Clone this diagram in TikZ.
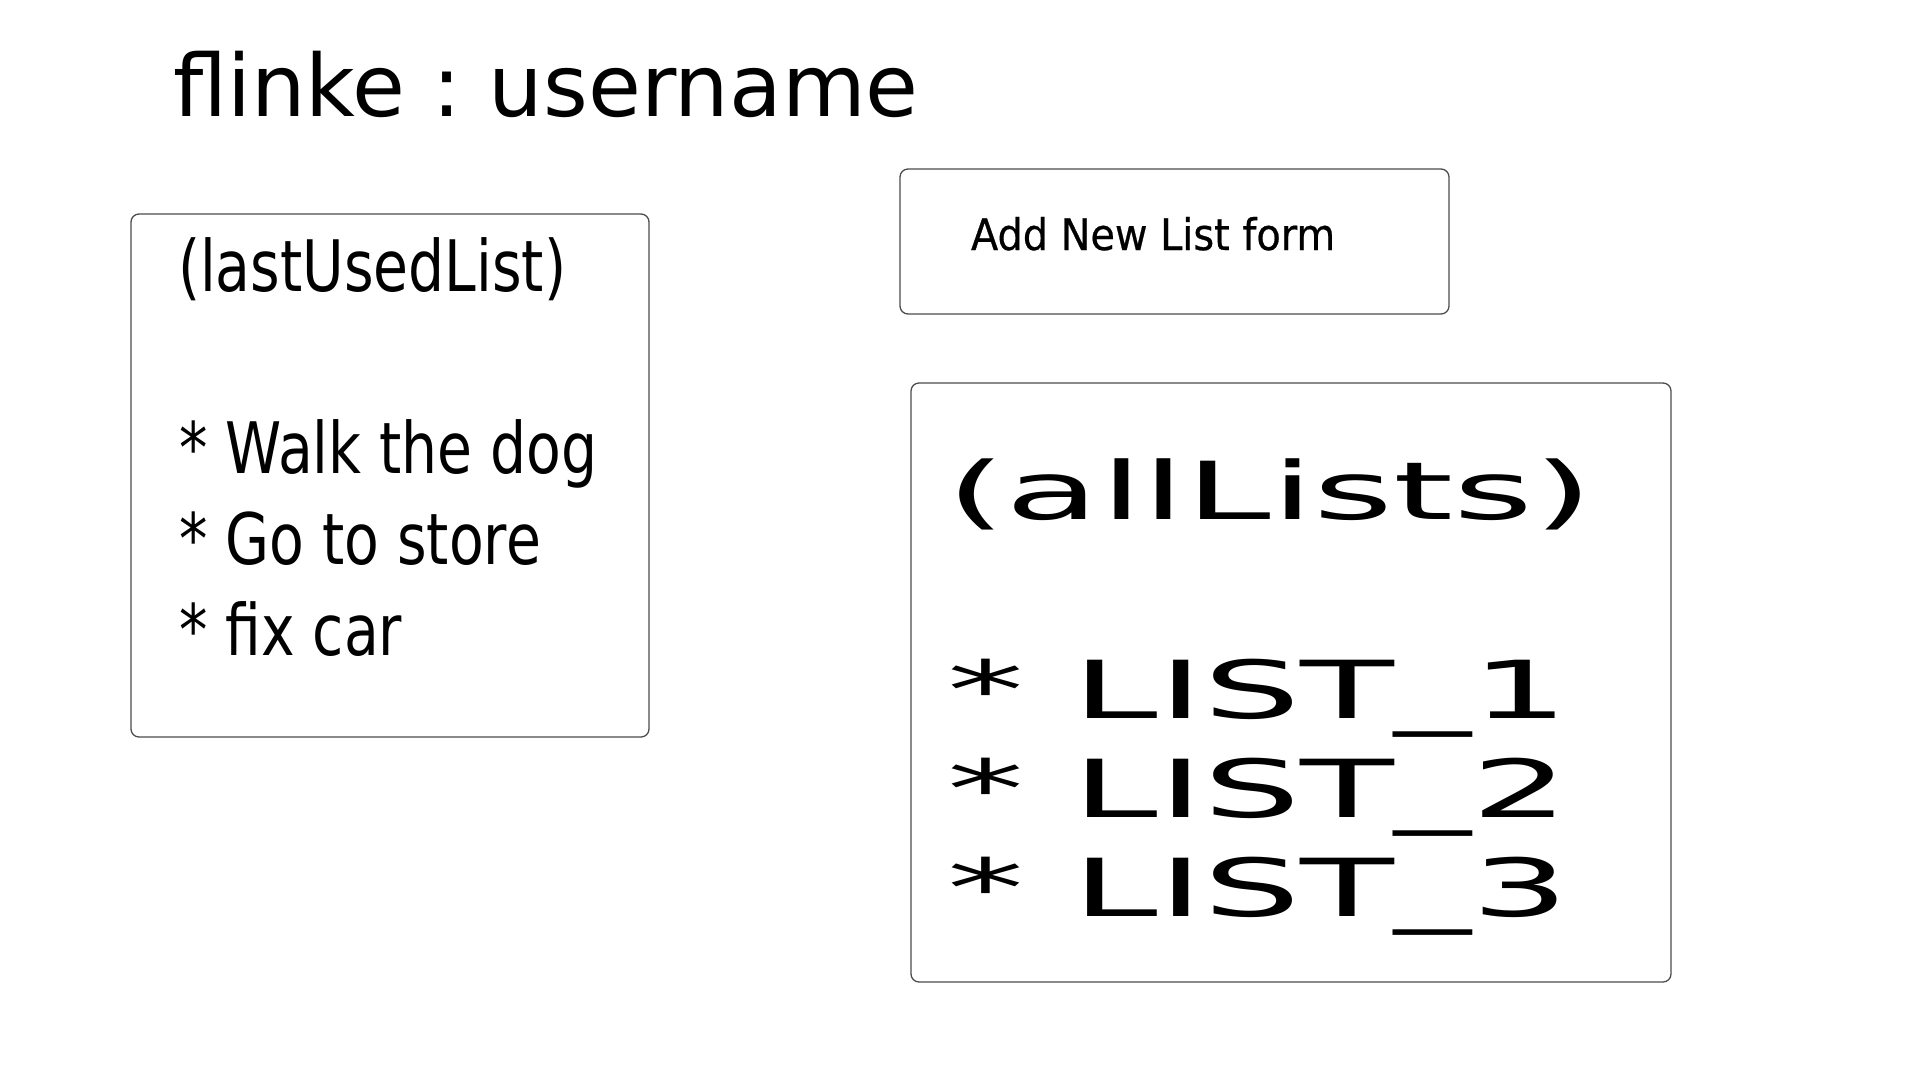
\documentclass[tikz,border=0pt]{standalone}
\usepackage{fontspec}
\setmainfont{DejaVu Sans}
\newfontfamily\formfont[FakeBold=0.6]{DejaVu Sans}
\usepackage{graphicx}
\frenchspacing
\newcommand{\lefttxt}[1]{\scalebox{0.80}[1]{\fontsize{71}{71}\selectfont #1}}
\newcommand{\bigtxt}[1]{\scalebox{1.92}[1]{\fontsize{80}{80}\selectfont #1}}
\newcommand{\formtxt}[1]{\scalebox{0.915}[1]{\formfont\fontsize{43.5}{43.5}\selectfont #1}}
\tikzset{
  frame/.style={draw=black!70, line width=1.3pt, rounded corners=8pt},
  txt/.style={anchor=base west, inner sep=0pt, outer sep=0pt},
}
\begin{document}
\begin{tikzpicture}[x=1pt, y=-1pt]
  \useasboundingbox (0,0) rectangle (1920,1080);
  \fill[white] (0,0) rectangle (1920,1080);

  % title
  \node[txt] (title) at (173,116) {\fontsize{86}{86}\selectfont flinke : username};

  % left box: last used list
  \coordinate (lastNW) at (131,214);
  \coordinate (lastSE) at (649,737);
  \draw[frame] (lastNW) rectangle (lastSE);
  \node[txt] (lastHead) at (178,291) {\lefttxt{(lastUsedList)}};
  \node[txt] (lastA) at (179,473) {\lefttxt{* Walk the dog}};
  \node[txt] (lastB) at (179,564) {\lefttxt{* Go to store}};
  \node[txt] (lastC) at (179,655) {\lefttxt{* fix car}};

  % add new list form
  \coordinate (formNW) at (900,169);
  \coordinate (formSE) at (1449,314);
  \draw[frame] (formNW) rectangle (formSE);
  \node[txt] (formLabel) at (971,250) {\formtxt{Add New List form}};

  % all lists box
  \coordinate (allNW) at (911,383);
  \coordinate (allSE) at (1671,982);
  \draw[frame] (allNW) rectangle (allSE);
  \node[txt] (allHead) at (946,519) {\bigtxt{(allLists)}};
  \node[txt] (allA) at (947,718) {\bigtxt{* LIST\_1}};
  \node[txt] (allB) at (947,817) {\bigtxt{* LIST\_2}};
  \node[txt] (allC) at (947,916) {\bigtxt{* LIST\_3}};
\end{tikzpicture}
\end{document}
